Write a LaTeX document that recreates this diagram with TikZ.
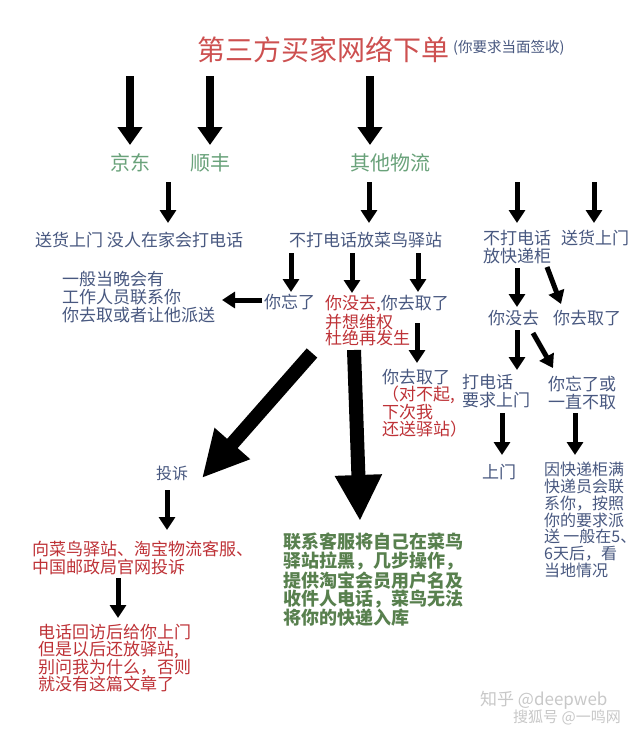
\documentclass[tikz,border=0pt]{standalone}
\usepackage{fontspec}
\newfontfamily\cjk{Noto Sans CJK SC}
\usetikzlibrary{arrows.meta}
\definecolor{blueT}{RGB}{72,88,128}
\definecolor{redT}{RGB}{190,50,55}
\definecolor{titleR}{RGB}{205,80,80}
\definecolor{greenL}{RGB}{105,162,122}
\definecolor{greenB}{RGB}{88,128,78}
\definecolor{wmark}{RGB}{200,200,200}
\tikzset{
  base/.style={inner sep=0pt, anchor=west, align=left},
  bt/.style={base, text=blueT, font=\cjk\fontsize{17}{18}\selectfont},
  rt/.style={base, text=redT, font=\cjk\fontsize{17}{17.5}\selectfont},
  gl/.style={inner sep=0pt, text=greenL, font=\cjk\fontsize{20}{22}\selectfont},
  gb/.style={base, text=greenB, font=\cjk\bfseries\fontsize{18}{17}\selectfont},
  bigarrow/.style={line width=7.5pt, -{Triangle[length=18pt,width=24pt]}},
  midarrow/.style={line width=5pt, -{Triangle[length=13pt,width=16pt]}},
  hugearrow/.style={line width=14pt, -{Triangle[length=46pt,width=44pt]}}
}
\begin{document}
\begin{tikzpicture}[x=1pt,y=-1pt]
\fill[white] (0,0) rectangle (640,729);
\useasboundingbox (0,0) rectangle (640,729);

% title
\node[base, text=titleR, font=\cjk\fontsize{28}{30}\selectfont] (title) at (197,50) {第三方买家网络下单};
\node[base, text=blueT, font=\cjk\fontsize{14.5}{16}\selectfont] (sub) at (453,48) {(你要求当面签收)};

% carriers
\node[gl] (jd) at (130,163) {京东};
\node[gl] (sf) at (210,163) {顺丰};
\node[gl] (qt) at (390,163) {其他物流};

\coordinate (t1) at (130,76); \coordinate (h1) at (130,145);
\coordinate (t2) at (210,76); \coordinate (h2) at (210,145);
\coordinate (t3) at (370,76); \coordinate (h3) at (370,145);
\draw[bigarrow] (t1) -- (h1);
\draw[bigarrow] (t2) -- (h2);
\draw[bigarrow] (t3) -- (h3);

% second row
\node[bt] (shm) at (35,240) {送货上门 没人在家会打电话};
\node[bt] (cn) at (289,240) {不打电话放菜鸟驿站};
\node[bt, font=\cjk\fontsize{17}{18}\selectfont] (kdg) at (483,247) {不打电话\\放快递柜};
\node[bt] (shm2) at (561,238) {送货上门};

\coordinate (m1t) at (168,182); \coordinate (m1h) at (168,223);
\coordinate (m2t) at (369,182); \coordinate (m2h) at (369,223);
\coordinate (m3t) at (517,182); \coordinate (m3h) at (517,223);
\coordinate (m4t) at (594,182); \coordinate (m4h) at (594,223);
\draw[midarrow] (m1t) -- (m1h);
\draw[midarrow] (m2t) -- (m2h);
\draw[midarrow] (m3t) -- (m3h);
\draw[midarrow] (m4t) -- (m4h);

% cainiao branch
\coordinate (c1t) at (291,253); \coordinate (c1h) at (291,292);
\coordinate (c2t) at (352,253); \coordinate (c2h) at (352,293);
\coordinate (c3t) at (418,253); \coordinate (c3h) at (418,292);
\draw[midarrow] (c1t) -- (c1h);
\draw[midarrow] (c2t) -- (c2h);
\draw[midarrow] (c3t) -- (c3h);

\node[bt] (wl) at (264,302) {你忘了};
\coordinate (wlt) at (262,300); \coordinate (wlh) at (222,300);
\draw[midarrow] (wlt) -- (wlh);
\node[bt] (yb) at (62,297) {一般当晚会有\\工作人员联系你\\你去取或者让他派送};

\node[rt, font=\cjk\fontsize{17}{16.5}\selectfont] (mq) at (325,321) {你没去,{\color{blueT}你去取了}\\并想维权\\杜绝再发生};
\coordinate (q1t) at (417,323); \coordinate (q1h) at (417,363);
\draw[midarrow] (q1t) -- (q1h);
\node[rt, font=\cjk\fontsize{17}{16.7}\selectfont] (nq) at (382,403) {{\color{blueT}你去取了}\\（对不起,\\下次我\\还送驿站）};

% huge arrows
\coordinate (d1t) at (312,353); \coordinate (d1h) at (202,478);
\draw[hugearrow] (d1t) -- (d1h);
\coordinate (d2t) at (354,350); \coordinate (d2h) at (360,521);
\draw[hugearrow] (d2t) -- (d2h);

% complaint branch
\node[bt, font=\cjk\fontsize{16}{18}\selectfont] (ts) at (156,473) {投诉};
\coordinate (s1t) at (167,490); \coordinate (s1h) at (167,530);
\draw[midarrow] (s1t) -- (s1h);
\node[rt] (red1) at (32,558) {向菜鸟驿站、淘宝物流客服、\\中国邮政局官网投诉};
\coordinate (s2t) at (118,578); \coordinate (s2h) at (118,618);
\draw[midarrow] (s2t) -- (s2h);
\node[rt] (red2) at (38,658) {电话回访后给你上门\\但是以后还放驿站,\\别问我为什么，否则\\就没有这篇文章了};

% green block
\node[gb] (gblk) at (283,580) {联系客服将自己在菜鸟\\驿站拉黑，几步操作，\\提供淘宝会员用户名及\\收件人电话，菜鸟无法\\将你的快递入库};

% locker branch
\coordinate (k1t) at (517,268); \coordinate (k1h) at (517,307);
\draw[midarrow] (k1t) -- (k1h);
\coordinate (k2t) at (547,267); \coordinate (k2h) at (561,304);
\draw[midarrow] (k2t) -- (k2h);
\node[bt] (ym) at (488,318) {你没去};
\node[bt] (nq2) at (553,318) {你去取了};
\coordinate (k3t) at (517,330); \coordinate (k3h) at (517,370);
\draw[midarrow] (k3t) -- (k3h);
\coordinate (k4t) at (533,333); \coordinate (k4h) at (553,368);
\draw[midarrow] (k4t) -- (k4h);
\node[bt] (dh) at (462,391) {打电话\\要求上门};
\node[bt] (wh) at (548,393) {你忘了或\\一直不取};
\coordinate (k5t) at (502,413); \coordinate (k5h) at (502,455);
\draw[midarrow] (k5t) -- (k5h);
\coordinate (k6t) at (575,413); \coordinate (k6h) at (575,455);
\draw[midarrow] (k6t) -- (k6h);
\node[bt] (sm) at (482,472) {上门};
\node[bt, font=\cjk\fontsize{16}{16.8}\selectfont] (yk) at (544,520) {因快递柜满\\快递员会联\\系你，按照\\你的要求派\\送\kern0.2em一般在5、\\6天后，看\\当地情况};

% watermark
\node[base, text=wmark, font=\cjk\fontsize{17}{18}\selectfont] (wm1) at (480,700) {知乎 @deepweb};
\node[base, text=wmark, font=\cjk\fontsize{15}{16}\selectfont] (wm2) at (513,717) {搜狐号 @一鸣网};
\end{tikzpicture}
\end{document}
